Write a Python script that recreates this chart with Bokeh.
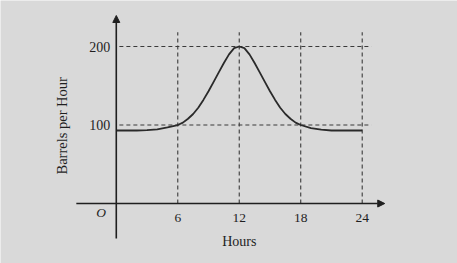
from bokeh.plotting import figure
from bokeh.models import Range1d, Arrow, NormalHead
from bokeh.core.properties import value
from bokeh.embed import file_html
from bokeh.resources import INLINE

# ---- data ----
hours = [0, 1, 2, 3, 4, 5, 6, 6.5, 7, 7.5, 8, 8.5, 9, 9.5, 10, 10.5, 11, 11.5, 12,
         12.5, 13, 13.5, 14, 14.5, 15, 15.5, 16, 16.5, 17, 17.5, 18, 19, 20, 21, 22, 23, 24]
barrels = [93, 93, 93, 93.5, 94.5, 97, 100, 103, 108, 114, 122, 132, 143, 155, 167, 179, 190, 198, 200,
           198, 190, 179, 167, 155, 143, 132, 122, 114, 108, 103, 100, 96, 94, 93, 93, 93, 93]
x_ticks = [6, 12, 18, 24]
x_tick_labels = ["6", "12", "18", "24"]
y_ticks = [100, 200]
y_tick_labels = ["100", "200"]
x_title = "Hours"
y_title = "Barrels per Hour"

BG = "#d9d9d9"
INK = "#1f1f1f"
SERIF = "Liberation Serif"

p = figure(width=457, height=263, output_backend="svg", toolbar_location=None,
           x_range=Range1d(-11.3, 33.3), y_range=Range1d(-76.4, 258.6),
           min_border=0, min_border_left=0, min_border_right=0,
           min_border_top=0, min_border_bottom=0)
p.axis.visible = False
p.grid.visible = False
p.outline_line_color = None
p.background_fill_color = BG
p.border_fill_color = BG

# dashed guides
p.segment(x0=x_ticks, y0=[0] * len(x_ticks), x1=x_ticks, y1=[218] * len(x_ticks),
          line_color="#3a3a3a", line_width=1.1, line_dash="4 3")
p.segment(x0=[0.3] * len(y_ticks), y0=y_ticks, x1=[24.9] * len(y_ticks), y1=y_ticks,
          line_color="#3a3a3a", line_width=1.1, line_dash="4 3")

# axes with arrows
p.add_layout(Arrow(end=NormalHead(size=7, fill_color=INK, line_color=INK),
                   x_start=0, y_start=-44.6, x_end=0, y_end=239.5,
                   line_color=INK, line_width=1.6))
p.add_layout(Arrow(end=NormalHead(size=7, fill_color=INK, line_color=INK),
                   x_start=-3.9, y_start=0, x_end=26.2, y_end=0,
                   line_color=INK, line_width=1.6))

# curve
p.line(hours, barrels, line_color="#2a2a2a", line_width=1.8)

# tick labels
p.text(x=x_ticks, y=[-19] * len(x_ticks), text=x_tick_labels, text_align="center",
       text_baseline="middle", text_font=value(SERIF), text_font_size="13.5px", text_color=INK)
p.text(x=[-0.6] * len(y_ticks), y=y_ticks, text=y_tick_labels, text_align="right",
       text_baseline="middle", text_font=value(SERIF), text_font_size="14px", text_color=INK)
p.text(x=[-1.0], y=[-11.5], text=["O"], text_align="right", text_baseline="middle",
       text_font=value(SERIF), text_font_style="italic", text_font_size="13.5px", text_color=INK)

# titles
p.text(x=[12], y=[-48.4], text=[x_title], text_align="center", text_baseline="middle",
       text_font=value(SERIF), text_font_size="14px", text_color=INK)
p.text(x=[-5.3], y=[99], text=[y_title], angle=1.5708, text_align="center",
       text_baseline="middle", text_font=value(SERIF), text_font_size="14.5px", text_color=INK)

open("out.html", "w").write(file_html(p, INLINE))
